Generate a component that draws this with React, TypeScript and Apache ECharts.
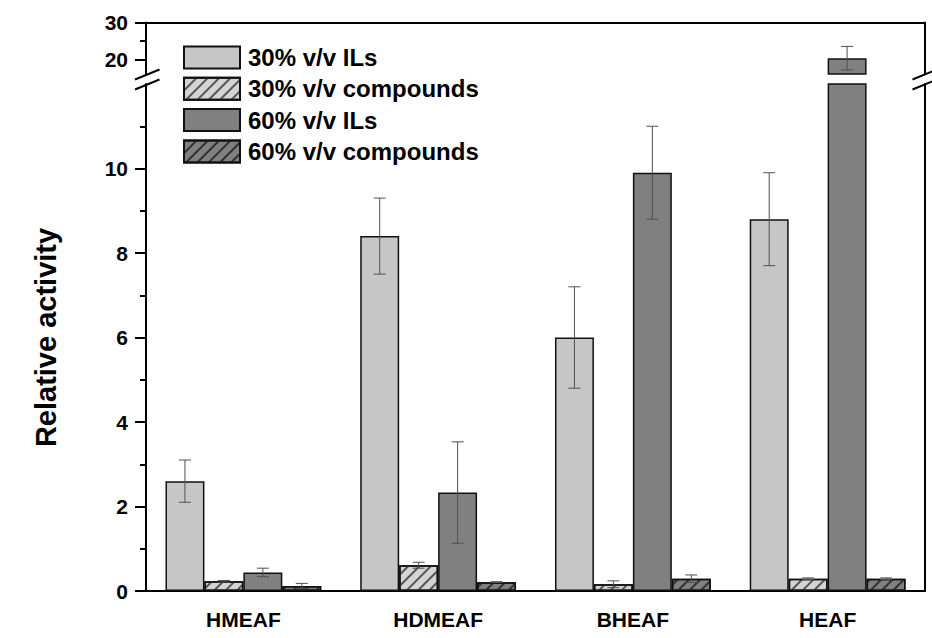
import React, { useEffect, useRef } from "react";
import * as echarts from "echarts";

const categories = ["HMEAF", "HDMEAF", "BHEAF", "HEAF"];
const seriesNames = ["30% v/v ILs", "30% v/v compounds", "60% v/v ILs", "60% v/v compounds"];
const ils30 = [2.6, 8.4, 6.0, 8.8];
const ils30Err = [0.5, 0.9, 1.2, 1.1];
const comp30 = [0.23, 0.61, 0.16, 0.29];
const comp30Err = [0.02, 0.07, 0.08, 0.02];
const ils60 = [0.44, 2.33, 9.9, 20.3];
const ils60Err = [0.1, 1.2, 1.1, 3.2];
const comp60 = [0.12, 0.21, 0.29, 0.29];
const comp60Err = [0.06, 0.01, 0.09, 0.02];
const lowerTicks = [0, 2, 4, 6, 8, 10];
const upperTicks = [20, 30];
const upperMinorTicks = [25];
const lowerRange = [0, 12];
const upperRange = [16, 30];

const FONT = "'Liberation Sans', Arial, sans-serif";

export default function App() {
  const ref = useRef<HTMLDivElement>(null);
  useEffect(() => {
    if (!ref.current) return;
    const chart = echarts.init(ref.current, undefined, { renderer: "svg" });
    const values = [ils30, comp30, ils60, comp60];
    const errors = [ils30Err, comp30Err, ils60Err, comp60Err];
    const fills = ["#c6c6c6", "#d4d4d4", "#808080", "#808080"];
    const decals: any[] = [
      undefined,
      { symbol: "rect", symbolSize: 1, dashArrayX: [[1, 0]], dashArrayY: [1.2, 5.5], rotation: -Math.PI / 4, color: "#555555" },
      undefined,
      { symbol: "rect", symbolSize: 1, dashArrayX: [[1, 0]], dashArrayY: [1.2, 5.5], rotation: -Math.PI / 4, color: "#303030" },
    ];

    const barCommon = (i: number) => ({
      type: "bar",
      name: seriesNames[i],
      barGap: "0%",
      barCategoryGap: "20%",
      itemStyle: { color: fills[i], borderColor: "#111", borderWidth: 1.5, decal: decals[i] },
      emphasis: { disabled: true },
    });

    const lowerBars = values.map((v, i) => ({
      ...barCommon(i),
      xAxisIndex: 1,
      yAxisIndex: 1,
      clip: true,
      data: v,
    }));
    const upperBars = values.map((v, i) => ({
      ...barCommon(i),
      xAxisIndex: 0,
      yAxisIndex: 0,
      clip: true,
      data: v.map((x) => (x > upperRange[0] ? x : "-")),
    }));

    const lowerErr: number[][] = [];
    const upperErr: number[][] = [];
    values.forEach((v, i) => {
      v.forEach((x, c) => {
        const item = [c, x - errors[i][c], x + errors[i][c], i];
        if (x > lowerRange[1]) upperErr.push(item);
        else lowerErr.push(item);
      });
    });

    const errRender = (params: any, api: any) => {
      const cat = api.value(0);
      const lo = api.value(1);
      const hi = api.value(2);
      const k = api.value(3);
      const band = api.size([1, 0])[0];
      const bw = (band * 0.8) / 4;
      const p1 = api.coord([cat, lo]);
      const p2 = api.coord([cat, hi]);
      const x = p1[0] + (k - 1.5) * bw;
      const cap = 6;
      const style = { stroke: "#505050", lineWidth: 1 };
      return {
        type: "group",
        children: [
          { type: "line", shape: { x1: x, y1: p1[1], x2: x, y2: p2[1] }, style },
          { type: "line", shape: { x1: x - cap, y1: p1[1], x2: x + cap, y2: p1[1] }, style },
          { type: "line", shape: { x1: x - cap, y1: p2[1], x2: x + cap, y2: p2[1] }, style },
        ],
      };
    };

    const labelStyle = { fontFamily: FONT, fontSize: 21, fontWeight: "bold", color: "#000" };
    const lineStyle = { color: "#000", width: 2 };

    const option: any = {
      animation: false,
      backgroundColor: "#fff",
      grid: [
        { left: 146, right: 7, top: 22.5, height: 51.5 },
        { left: 146, right: 7, top: 84, bottom: 47 },
      ],
      legend: {
        orient: "vertical",
        left: 178,
        top: 40.5,
        itemWidth: 56,
        itemHeight: 22,
        itemGap: 7.3,
        icon: "rect",
        selectedMode: false,
        data: seriesNames,
        textStyle: { fontFamily: FONT, fontSize: 24, fontWeight: "bold", color: "#000", lineHeight: 22, padding: [0, 0, 0, 3] },
      },
      xAxis: [
        {
          type: "category",
          gridIndex: 0,
          position: "top",
          data: categories,
          axisLine: { lineStyle },
          axisTick: { show: false },
          axisLabel: { show: false },
        },
        {
          type: "category",
          gridIndex: 1,
          position: "bottom",
          data: categories,
          axisLine: { lineStyle },
          axisTick: { alignWithLabel: true, length: 12, lineStyle },
          axisLabel: { ...labelStyle, margin: 18 },
        },
        {
          type: "category",
          gridIndex: 1,
          position: "bottom",
          data: categories,
          axisLine: { show: false },
          axisTick: { length: 6, lineStyle },
          axisLabel: { show: false },
        },
      ],
      yAxis: [
        {
          type: "value",
          gridIndex: 0,
          position: "left",
          min: upperRange[0],
          max: upperRange[1],
          splitLine: { show: false },
          axisLine: { show: true, lineStyle },
          axisTick: { show: true, length: 11, lineStyle, customValues: upperTicks },
          axisLabel: { ...labelStyle, margin: 18, customValues: upperTicks },
        },
        {
          type: "value",
          gridIndex: 1,
          position: "left",
          min: lowerRange[0],
          max: lowerRange[1],
          interval: 2,
          splitLine: { show: false },
          axisLine: { show: true, lineStyle },
          axisTick: { show: true, length: 11, lineStyle, customValues: lowerTicks },
          minorTick: { show: true, splitNumber: 2, length: 6, lineStyle: { color: "#000", width: 2 } },
          axisLabel: { ...labelStyle, margin: 18, customValues: lowerTicks },
          name: "Relative activity",
          nameLocation: "middle",
          nameGap: 86,
          nameTextStyle: { fontFamily: FONT, fontSize: 29, fontWeight: "bold", color: "#000" },
        },
        {
          type: "value",
          gridIndex: 0,
          position: "right",
          min: upperRange[0],
          max: upperRange[1],
          splitLine: { show: false },
          axisLine: { show: true, lineStyle },
          axisTick: { show: false },
          axisLabel: { show: false },
        },
        {
          type: "value",
          gridIndex: 1,
          position: "right",
          min: lowerRange[0],
          max: lowerRange[1],
          splitLine: { show: false },
          axisLine: { show: true, lineStyle },
          axisTick: { show: false },
          axisLabel: { show: false },
        },
        {
          type: "value",
          gridIndex: 0,
          position: "left",
          min: upperRange[0],
          max: upperRange[1],
          splitLine: { show: false },
          axisLine: { show: false },
          axisTick: { show: true, length: 6, lineStyle, customValues: upperMinorTicks },
          axisLabel: { show: false },
        },
      ],
      series: [
        ...upperBars,
        ...lowerBars,
        {
          type: "custom",
          xAxisIndex: 0,
          yAxisIndex: 0,
          z: 10,
          silent: true,
          renderItem: errRender,
          data: upperErr,
        },
        {
          type: "custom",
          xAxisIndex: 1,
          yAxisIndex: 1,
          z: 10,
          silent: true,
          renderItem: errRender,
          data: lowerErr,
        },
      ],
      graphic: [
        { type: "line", shape: { x1: 135, y1: 79.5, x2: 159.5, y2: 69.5 }, style: { stroke: "#000", lineWidth: 2 } },
        { type: "line", shape: { x1: 135, y1: 89.5, x2: 159.5, y2: 79.5 }, style: { stroke: "#000", lineWidth: 2 } },
        { type: "line", shape: { x1: 912.5, y1: 79.5, x2: 937, y2: 69.5 }, style: { stroke: "#000", lineWidth: 2 } },
        { type: "line", shape: { x1: 912.5, y1: 89.5, x2: 937, y2: 79.5 }, style: { stroke: "#000", lineWidth: 2 } },
      ],
    };
    chart.setOption(option);
    return () => chart.dispose();
  }, []);
  return <div ref={ref} style={{ position: "fixed", left: 0, top: 0, width: 932, height: 638 }} />;
}
